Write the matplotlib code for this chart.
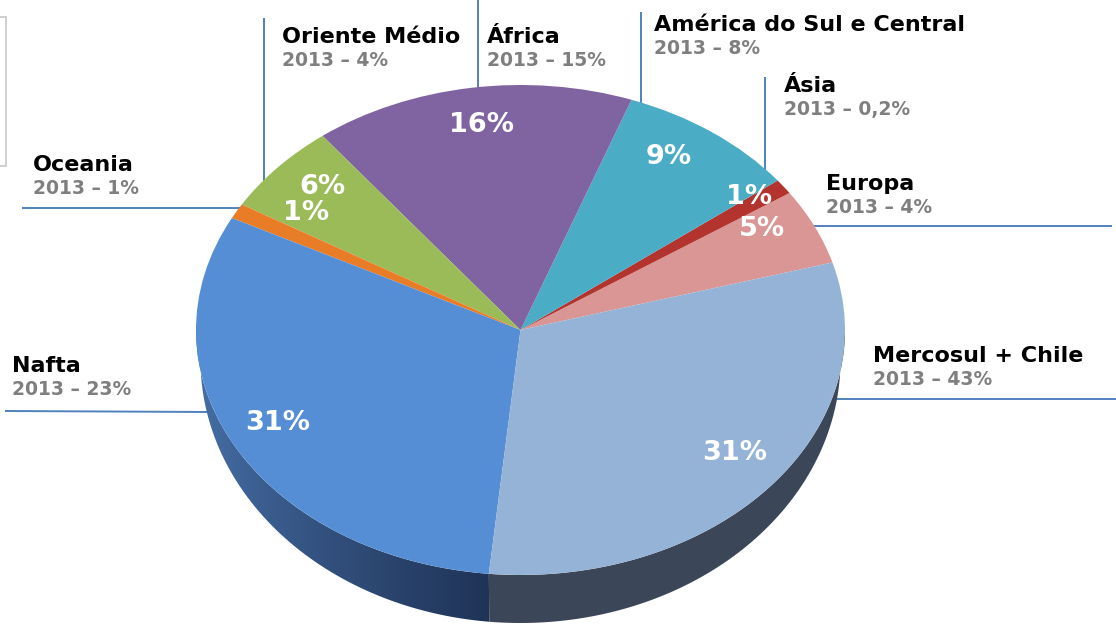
import numpy as np
import matplotlib
matplotlib.use("Agg")
import matplotlib.pyplot as plt
from matplotlib.patches import Polygon, Rectangle

# ---------------- data ----------------
regions = ["Europa", "Ásia", "América do Sul e Central", "África",
           "Oriente Médio", "Oceania", "Nafta", "Mercosul + Chile"]
share_now = [5, 1, 9, 16, 6, 1, 31, 31]
share_2013 = ["4%", "0,2%", "8%", "15%", "4%", "1%", "23%", "43%"]
top_colors = ["#d99694", "#b3342f", "#4bacc6", "#8064a2",
              "#9bbb59", "#e97c26", "#558ed5", "#95b3d7"]

# ---------------- layout (pixels) ----------------
W, H = 1116, 624
CX, CY = 520.5, 330.0      # centre of the top face
RX, RY = 324.5, 245.0      # semi-axes of the top face

fig = plt.figure(figsize=(W / 100, H / 100), dpi=100)
ax = fig.add_axes([0, 0, 1, 1])


def px(x, y):
    """pixel (from top-left) -> data coords (top face = unit circle)"""
    return (x - CX) / RX, (CY - y) / RY


wedges, _ = ax.pie(share_now, colors=top_colors, startangle=16,
                   counterclock=True, radius=1.0, center=(0, 0),
                   wedgeprops=dict(linewidth=0, zorder=3))
ax.set_aspect("auto")
ax.set_xlim(-CX / RX, (W - CX) / RX)
ax.set_ylim(-(H - CY) / RY, CY / RY)
ax.axis("off")

# ---------------- side wall (3D look) ----------------
kx, ky, d0 = 320 / RX, 263 / RY, 30 / RY
side_solid = {"Mercosul + Chile": "#3b4658"}
for w, name in zip(wedges, regions):
    t1, t2 = w.theta1, w.theta2
    segs = []
    for off in (0, 360):
        a, b = max(t1 - off, 180), min(t2 - off, 360)
        if b > a:
            segs.append((a, b))
    for a, b in segs:
        t = np.radians(np.linspace(a, b, 200))
        top = np.column_stack([np.cos(t), np.sin(t)])
        bot = np.column_stack([kx * np.cos(t[::-1]), ky * np.sin(t[::-1]) - d0])
        poly = Polygon(np.vstack([top, bot]), closed=True, lw=0, zorder=2)
        if name in side_solid:
            poly.set_facecolor(side_solid[name])
            ax.add_patch(poly)
        else:
            poly.set_facecolor("none")
            ax.add_patch(poly)
            n = 256
            c0 = np.array([72, 114, 170]) / 255
            c1 = np.array([31, 50, 86]) / 255
            f = np.linspace(0, 1, n) ** 0.8
            grad = (c0[None, :] * (1 - f[:, None]) + c1[None, :] * f[:, None])[None, :, :]
            im = ax.imshow(grad, extent=(-1.02, -0.08, -1.25, 0.05),
                           aspect="auto", zorder=2, interpolation="bilinear")
            im.set_clip_path(poly)
ax.set_xlim(-CX / RX, (W - CX) / RX)
ax.set_ylim(-(H - CY) / RY, CY / RY)

# ---------------- leader lines ----------------
line_col = "#4f81bd"
leaders = {
    "Oceania": [(22, 208), (245, 208)],
    "Oriente Médio": [(264, 18), (264, 185)],
    "África": [(478, 0), (478, 92)],
    "América do Sul e Central": [(641, 12), (641, 105)],
    "Ásia": [(765, 77), (765, 175)],
    "Europa": [(812, 226), (1112, 226)],
    "Mercosul + Chile": [(835, 399), (1116, 399)],
    "Nafta": [(5, 411), (210, 412)],
}
for name, pts in leaders.items():
    (x1, y1), (x2, y2) = pts
    a1, b1 = px(x1, y1)
    a2, b2 = px(x2, y2)
    ax.plot([a1, a2], [b1, b2], color=line_col, lw=1.4, zorder=1,
            solid_capstyle="butt")

# ---------------- outside labels ----------------
label_pos = {
    "Oriente Médio": (282, 43),
    "África": (487, 43),
    "América do Sul e Central": (654, 31),
    "Ásia": (784, 92),
    "Europa": (826, 190),
    "Mercosul + Chile": (873, 362),
    "Nafta": (12, 372),
    "Oceania": (33, 171),
}
for name, s13 in zip(regions, share_2013):
    x, y = label_pos[name]
    fig.text(x / W, 1 - y / H, name, fontsize=16, fontweight="bold",
             color="black", ha="left", va="baseline", family="DejaVu Sans")
    fig.text(x / W, 1 - (y + 23) / H, f"2013 \u2013 {s13}", fontsize=13.5,
             fontweight="bold", color="#7f7f7f", ha="left", va="baseline",
             family="DejaVu Sans")

# ---------------- inside percentage labels ----------------
pct_pos = {
    "Europa": (762, 229),
    "Ásia": (749, 197),
    "América do Sul e Central": (669, 157),
    "África": (481, 125),
    "Oriente Médio": (322, 187),
    "Oceania": (306, 213),
    "Nafta": (278, 423),
    "Mercosul + Chile": (735, 453),
}
for name, v in zip(regions, share_now):
    x, y = pct_pos[name]
    a, b = px(x, y)
    ax.text(a, b, f"{v}%", fontsize=19.5, fontweight="bold", color="white",
            ha="center", va="center", zorder=5, family="DejaVu Sans")

# cropped box at top-left
fig.add_artist(Rectangle((-0.01, 1 - 166 / H), 6 / W + 0.01, (166 - 17) / H,
                         transform=fig.transFigure, fill=False,
                         ec="#c8c8c8", lw=1.2))

fig.savefig("out.png", dpi=100)
